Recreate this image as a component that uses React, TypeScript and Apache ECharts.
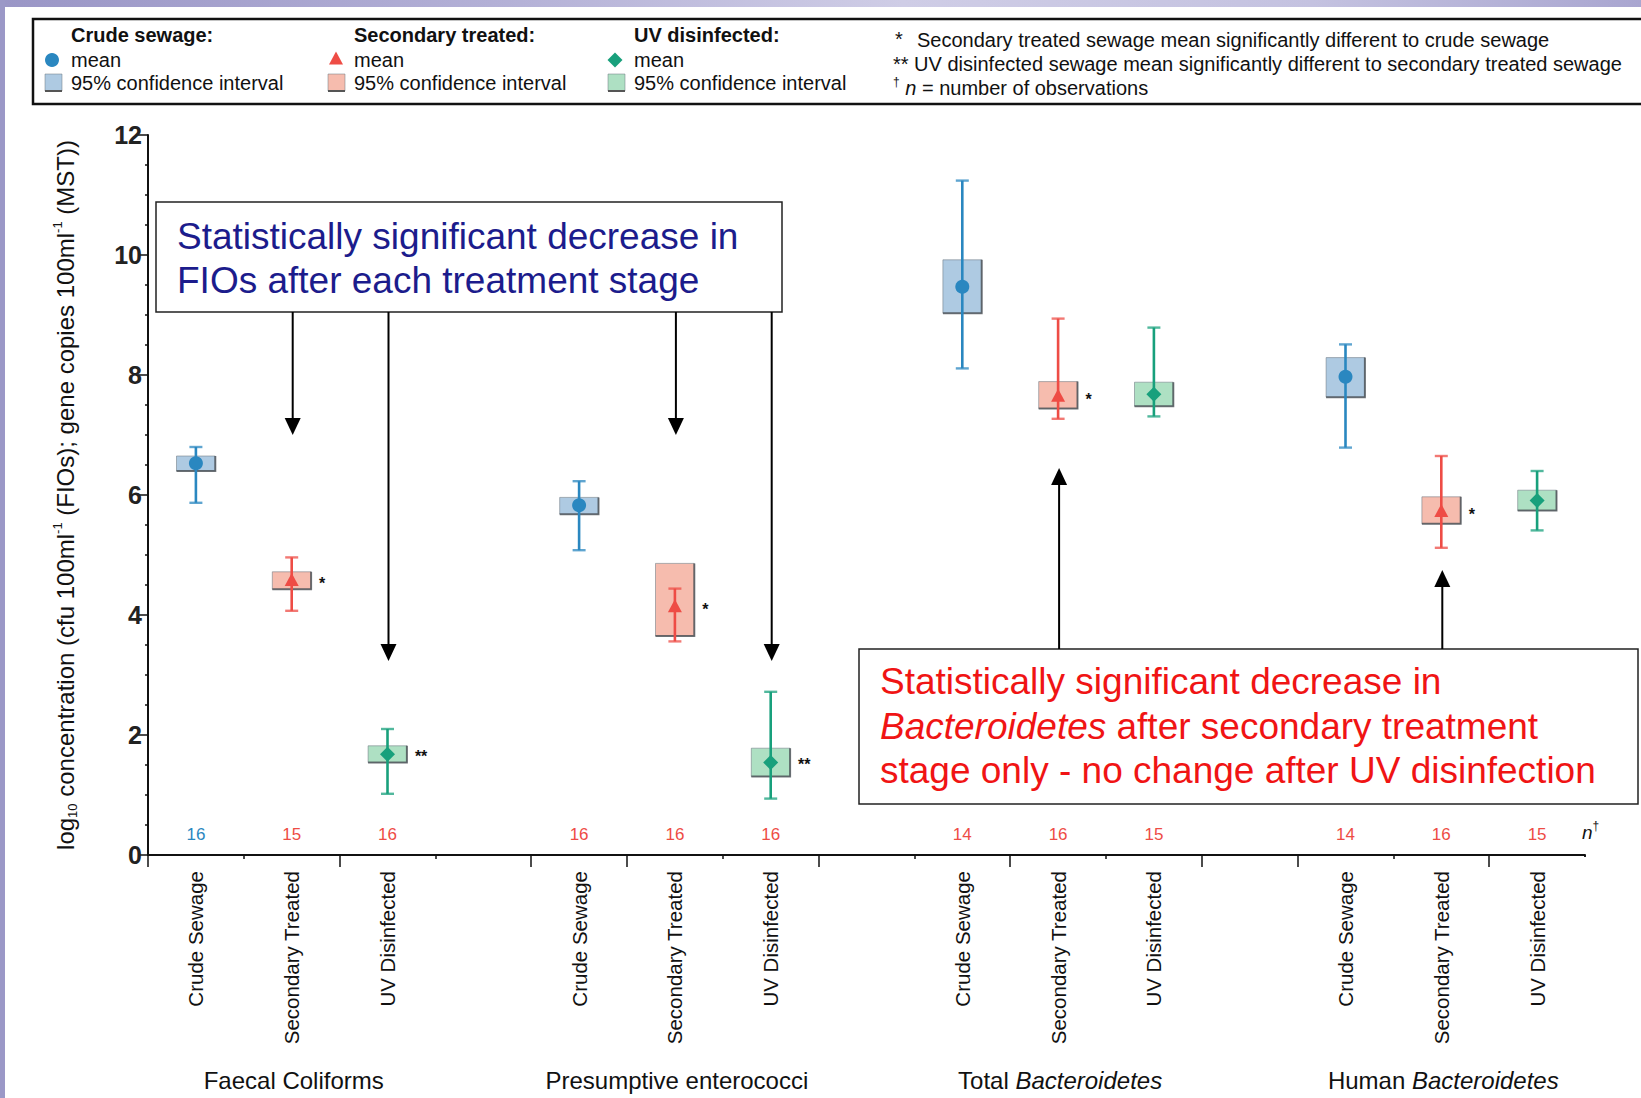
import React, { useEffect, useRef } from "react";
import * as echarts from "echarts";

const FONT = "'Liberation Sans', Arial, Helvetica, sans-serif";

// ---------- data ----------
const categories = [
  "Crude Sewage", "Secondary Treated", "UV Disinfected", "",
  "Crude Sewage", "Secondary Treated", "UV Disinfected", "",
  "Crude Sewage", "Secondary Treated", "UV Disinfected", "",
  "Crude Sewage", "Secondary Treated", "UV Disinfected",
];
const groupNames = ["Faecal Coliforms", "Presumptive enterococci", "Total {i|Bacteroidetes}", "Human {i|Bacteroidetes}"];
const groupStart = [0, 4, 8, 12];
const yTicks = [0, 2, 4, 6, 8, 10, 12];

// Crude sewage
const crudeMean = [6.53, 5.83, 9.47, 7.97];
const crudeBoxLow = [6.4, 5.68, 9.03, 7.63];
const crudeBoxHigh = [6.65, 5.96, 9.92, 8.29];
const crudeBarLow = [5.87, 5.08, 8.11, 6.79];
const crudeBarHigh = [6.8, 6.23, 11.24, 8.51];
const crudeN = [16, 16, 14, 14];
const crudeSig = ["", "", "", ""];

// Secondary treated
const secMean = [4.56, 4.12, 7.63, 5.71];
const secBoxLow = [4.43, 3.65, 7.44, 5.52];
const secBoxHigh = [4.72, 4.86, 7.89, 5.97];
const secBarLow = [4.07, 3.56, 7.27, 5.12];
const secBarHigh = [4.96, 4.44, 8.94, 6.65];
const secN = [15, 16, 16, 16];
const secSig = ["*", "*", "*", "*"];

// UV disinfected
const uvMean = [1.68, 1.54, 7.68, 5.91];
const uvBoxLow = [1.54, 1.31, 7.48, 5.74];
const uvBoxHigh = [1.82, 1.78, 7.88, 6.08];
const uvBarLow = [1.02, 0.94, 7.31, 5.41];
const uvBarHigh = [2.1, 2.72, 8.79, 6.4];
const uvN = [16, 16, 15, 15];
const uvSig = ["**", "**", "", ""];

const longTicks = [0, 2, 4, 5, 7, 9, 11, 12, 14];

// ---------- styles ----------
const BLUE = "#2a87c0";
const BLUE_FILL = "#aecae2";
const RED = "#ee4c45";
const RED_FILL = "#f6bcae";
const GREEN = "#18a07c";
const GREEN_FILL = "#aee0c3";
const N_RED = "#ee4c45";

type Treat = {
  name: string;
  offset: number;
  mean: number[];
  boxLow: number[];
  boxHigh: number[];
  barLow: number[];
  barHigh: number[];
  n: number[];
  sig: string[];
  color: string;
  fill: string;
  marker: "circle" | "triangle" | "diamond";
};

const treatments: Treat[] = [
  { name: "Crude sewage", offset: 0, mean: crudeMean, boxLow: crudeBoxLow, boxHigh: crudeBoxHigh, barLow: crudeBarLow, barHigh: crudeBarHigh, n: crudeN, sig: crudeSig, color: BLUE, fill: BLUE_FILL, marker: "circle" },
  { name: "Secondary treated", offset: 1, mean: secMean, boxLow: secBoxLow, boxHigh: secBoxHigh, barLow: secBarLow, barHigh: secBarHigh, n: secN, sig: secSig, color: RED, fill: RED_FILL, marker: "triangle" },
  { name: "UV disinfected", offset: 2, mean: uvMean, boxLow: uvBoxLow, boxHigh: uvBoxHigh, barLow: uvBarLow, barHigh: uvBarHigh, n: uvN, sig: uvSig, color: GREEN, fill: GREEN_FILL, marker: "diamond" },
];

function markerShape(kind: string, cx: number, cy: number, color: string): any {
  if (kind === "circle") {
    return { type: "circle", shape: { cx, cy, r: 7 }, style: { fill: color } };
  }
  if (kind === "triangle") {
    return {
      type: "polygon",
      shape: { points: [[cx, cy - 8.5], [cx - 7, cy + 4.5], [cx + 7, cy + 4.5]] },
      style: { fill: color },
    };
  }
  return {
    type: "polygon",
    shape: { points: [[cx, cy - 7.5], [cx + 7.5, cy], [cx, cy + 7.5], [cx - 7.5, cy]] },
    style: { fill: color },
  };
}

function txt(text: string, x: number, y: number, opts: any = {}): any {
  const align = opts.align || "left";
  const va = opts.va || "middle";
  return {
    type: "text",
    z: 20,
    style: {
      text,
      x,
      y,
      fill: opts.fill || "#111",
      fontSize: opts.fontSize || 20,
      fontFamily: FONT,
      fontWeight: opts.fontWeight || "normal",
      fontStyle: opts.fontStyle || "normal",
      lineHeight: opts.lineHeight,
      align,
      textAlign: align,
      verticalAlign: va,
      textVerticalAlign: va,
      rich: opts.rich,
    },
  };
}

function buildSeries(): any[] {
  return treatments.map((t, ti) => {
    const data = t.mean.map((m, g) => [groupStart[g] + t.offset, m, t.boxLow[g], t.boxHigh[g], t.barLow[g], t.barHigh[g]]);
    return {
      type: "custom",
      name: t.name,
      xAxisIndex: 0,
      yAxisIndex: 0,
      clip: false,
      z: 5,
      data,
      renderItem: (params: any, api: any) => {
        const g = params.dataIndex;
        const x = api.value(0);
        const [cx, cy] = api.coord([x, api.value(1)]);
        const yBL = api.coord([x, api.value(2)])[1];
        const yBH = api.coord([x, api.value(3)])[1];
        const yWL = api.coord([x, api.value(4)])[1];
        const yWH = api.coord([x, api.value(5)])[1];
        const y0 = api.coord([x, 0])[1];
        const slot = api.size([1, 0])[0];
        const bw = slot * 0.405;
        const cap = 6.5;
        const children: any[] = [
          {
            type: "rect",
            shape: { x: cx - bw / 2, y: yBH, width: bw, height: yBL - yBH },
            style: { fill: t.fill, stroke: "rgba(110,120,130,0.55)", lineWidth: 1 },
          },
          {
            type: "polyline",
            shape: { points: [[cx - bw / 2, yBL], [cx + bw / 2, yBL], [cx + bw / 2, yBH]] },
            style: { stroke: "rgba(70,75,80,0.75)", lineWidth: 2, fill: null },
          },
          {
            type: "line",
            shape: { x1: cx, y1: yWH, x2: cx, y2: yWL },
            style: { stroke: t.color, lineWidth: 2.6 },
          },
          {
            type: "line",
            shape: { x1: cx - cap, y1: yWH, x2: cx + cap, y2: yWH },
            style: { stroke: t.color, lineWidth: 2.4, opacity: 0.75 },
          },
          {
            type: "line",
            shape: { x1: cx - cap, y1: yWL, x2: cx + cap, y2: yWL },
            style: { stroke: t.color, lineWidth: 2.4, opacity: 0.75 },
          },
          markerShape(t.marker, cx, cy, t.color),
          {
            type: "text",
            style: {
              text: String(t.n[g]),
              x: cx,
              y: y0 - 21,
              fill: ti === 0 && g === 0 ? BLUE : N_RED,
              fontSize: 17,
              fontFamily: FONT,
              align: "center",
              verticalAlign: "middle",
            },
          },
        ];
        if (t.sig[g]) {
          children.push({
            type: "text",
            style: {
              text: t.sig[g],
              x: cx + bw / 2 + 8,
              y: cy + 2,
              fill: "#111",
              fontSize: 16,
              fontWeight: "bold",
              fontFamily: FONT,
              align: "left",
              verticalAlign: "middle",
            },
          });
        }
        return { type: "group", children };
      },
    };
  });
}

function buildGraphics(chart: any): any[] {
  const els: any[] = [];
  const catX = (i: number) => chart.convertToPixel({ xAxisIndex: 0 }, i) as number;

  // background bands
  els.push({
    type: "rect",
    z: 1,
    shape: { x: 0, y: 0, width: 1641, height: 7 },
    style: {
      fill: new echarts.graphic.LinearGradient(0, 0, 1, 0, [
        { offset: 0, color: "#9a96c6" },
        { offset: 0.3, color: "#b3b0d6" },
        { offset: 0.55, color: "#cfcde6" },
        { offset: 0.8, color: "#c4c2e0" },
        { offset: 1, color: "#a9a6d0" },
      ]),
    },
  });
  els.push({ type: "rect", z: 1, shape: { x: 0, y: 0, width: 5, height: 1098 }, style: { fill: "#9b98c7" } });

  // hide the automatic end tick of the category axis
  els.push({ type: "rect", z: 30, shape: { x: 1580, y: 857, width: 10, height: 14 }, style: { fill: "#fff" } });

  // legend box
  els.push({ type: "rect", z: 2, shape: { x: 33, y: 19, width: 1640, height: 85 }, style: { fill: "#fff", stroke: "#111", lineWidth: 2.5 } });
  const legendCols = [
    { title: "Crude sewage:", tx: 71, mx: 52, sx: 45, t: treatments[0] },
    { title: "Secondary treated:", tx: 354, mx: 336, sx: 328, t: treatments[1] },
    { title: "UV disinfected:", tx: 634, mx: 615, sx: 608, t: treatments[2] },
  ];
  legendCols.forEach((c) => {
    els.push(txt(c.title, c.tx, 35, { fontWeight: "bold", fontSize: 20 }));
    els.push({ ...markerShape(c.t.marker, c.mx, 60, c.t.color), z: 20 });
    els.push(txt("mean", c.tx, 60, { fontSize: 20 }));
    els.push({ type: "rect", z: 20, shape: { x: c.sx, y: 74, width: 17, height: 17 }, style: { fill: c.t.fill, stroke: "rgba(110,120,130,0.5)", lineWidth: 1 } });
    els.push({ type: "line", z: 21, shape: { x1: c.sx, y1: 91, x2: c.sx + 17, y2: 91 }, style: { stroke: "#555", lineWidth: 2 } });
    els.push(txt("95% confidence interval", c.tx, 83, { fontSize: 20 }));
  });
  els.push(txt("*", 895, 39, { fontSize: 20 }));
  els.push(txt("Secondary treated sewage mean significantly different to crude sewage", 917, 40, { fontSize: 20 }));
  els.push(txt("** UV disinfected sewage mean significantly different to secondary treated sewage", 893, 64, { fontSize: 20 }));
  els.push(
    txt("{s|†}{i| n}{r| = number of observations}", 893, 88, {
      fontSize: 20,
      rich: {
        s: { fontSize: 12, fontFamily: FONT, fill: "#111", verticalAlign: "top", lineHeight: 24 },
        i: { fontSize: 20, fontStyle: "italic", fontFamily: FONT, fill: "#111", lineHeight: 24 },
        r: { fontSize: 20, fontFamily: FONT, fill: "#111", lineHeight: 24 },
      },
    })
  );

  // n† marker
  els.push(
    txt("{i|n}{s|†}", 1582, 832, {
      rich: {
        i: { fontSize: 19, fontStyle: "italic", fontFamily: FONT, fill: "#111", lineHeight: 24 },
        s: { fontSize: 12, fontFamily: FONT, fill: "#111", verticalAlign: "top", lineHeight: 24 },
      },
    })
  );

  // group labels
  groupNames.forEach((name, g) => {
    const x = catX(groupStart[g] + 1) + 2;
    els.push(
      txt(name, x, 1080, {
        align: "center",
        fontSize: 24,
        rich: {
          i: { fontSize: 24, fontStyle: "italic", fontFamily: FONT, fill: "#111" },
        },
      })
    );
  });

  // annotation: blue
  els.push({ type: "rect", z: 10, shape: { x: 156, y: 202, width: 626, height: 110 }, style: { fill: "#fff", stroke: "#222", lineWidth: 1.5 } });
  els.push(
    txt("Statistically significant decrease in\nFIOs after each treatment stage", 177, 258, {
      fill: "#1c1c8c",
      fontSize: 37,
      lineHeight: 44,
    })
  );
  // annotation: red
  els.push({ type: "rect", z: 10, shape: { x: 859, y: 649, width: 779, height: 155 }, style: { fill: "#fff", stroke: "#222", lineWidth: 1.5 } });
  els.push(
    txt("{a|Statistically significant decrease in}\n{i|Bacteroidetes}{a| after secondary treatment}\n{a|stage only - no change after UV disinfection}", 880, 726, {
      fill: "#f01414",
      fontSize: 37,
      lineHeight: 44.5,
      rich: {
        a: { fontSize: 37, fontFamily: FONT, fill: "#f01414", lineHeight: 44.5 },
        i: { fontSize: 37, fontFamily: FONT, fontStyle: "italic", fill: "#f01414", lineHeight: 44.5 },
      },
    })
  );

  // arrows
  const downArrows = [
    { cat: 1, tip: 435 },
    { cat: 2, tip: 661 },
    { cat: 5, tip: 435 },
    { cat: 6, tip: 661 },
  ];
  downArrows.forEach((a) => {
    const x = catX(a.cat) + 1;
    els.push({ type: "line", z: 11, shape: { x1: x, y1: 312, x2: x, y2: a.tip - 12 }, style: { stroke: "#000", lineWidth: 2 } });
    els.push({ type: "polygon", z: 11, shape: { points: [[x - 8, a.tip - 17], [x + 8, a.tip - 17], [x, a.tip]] }, style: { fill: "#000" } });
  });
  const upArrows = [
    { cat: 9, tip: 468 },
    { cat: 13, tip: 570 },
  ];
  upArrows.forEach((a) => {
    const x = catX(a.cat) + 1;
    els.push({ type: "line", z: 11, shape: { x1: x, y1: 649, x2: x, y2: a.tip + 12 }, style: { stroke: "#000", lineWidth: 2 } });
    els.push({ type: "polygon", z: 11, shape: { points: [[x - 8, a.tip + 17], [x + 8, a.tip + 17], [x, a.tip]] }, style: { fill: "#000" } });
  });

  return els;
}

export default function App() {
  const ref = useRef<HTMLDivElement>(null);
  useEffect(() => {
    document.body.style.margin = "0";
    if (!ref.current) return;
    const chart = echarts.init(ref.current, undefined, { renderer: "svg" });
    const option: any = {
      animation: false,
      backgroundColor: "#ffffff",
      grid: { left: 148, right: 56, top: 135, bottom: 243, containLabel: false },
      xAxis: [
        {
          type: "category",
          data: categories,
          position: "bottom",
          boundaryGap: true,
          axisLine: { show: true, onZero: false, lineStyle: { color: "#111", width: 2 } },
          axisTick: { show: true, length: 12, interval: (i: number) => longTicks.includes(i), lineStyle: { color: "#111", width: 1.5 } },
          axisLabel: { interval: 0, rotate: 90, margin: 16, fontSize: 20.5, color: "#111", fontFamily: FONT, padding: [9, 0, 0, 0] },
          splitLine: { show: false },
        },
        {
          type: "category",
          data: categories,
          position: "bottom",
          boundaryGap: true,
          axisLine: { show: false, onZero: false },
          axisTick: { show: true, length: 4, interval: (i: number) => !longTicks.includes(i), lineStyle: { color: "#111", width: 1.5 } },
          axisLabel: { show: false },
          splitLine: { show: false },
        },
      ],
      yAxis: {
        type: "value",
        min: yTicks[0],
        max: yTicks[yTicks.length - 1],
        interval: 2,
        axisLine: { show: true, lineStyle: { color: "#111", width: 2 } },
        axisTick: { show: true, length: 10, lineStyle: { color: "#111", width: 1.5 } },
        minorTick: { show: true, splitNumber: 4, length: 3, lineStyle: { color: "#111", width: 1.5 } },
        splitLine: { show: false },
        minorSplitLine: { show: false },
        axisLabel: { fontSize: 25, fontWeight: "bold", color: "#222", margin: 6, fontFamily: FONT },
        name: "{n|log}{sub|10}{n| concentration (cfu 100ml}{sup|-1}{n| (FIOs); gene copies 100ml}{sup|-1}{n| (MST))}",
        nameLocation: "middle",
        nameRotate: 90,
        nameGap: 69,
        nameTextStyle: {
          rich: {
            n: { fontSize: 24, fontFamily: FONT, color: "#111", lineHeight: 28 },
            sub: { fontSize: 13, fontFamily: FONT, color: "#111", verticalAlign: "bottom", lineHeight: 28 },
            sup: { fontSize: 13, fontFamily: FONT, color: "#111", verticalAlign: "top", lineHeight: 28 },
          },
        },
      },
      series: buildSeries(),
    };
    chart.setOption(option);
    chart.setOption({ graphic: { elements: buildGraphics(chart) } });
    return () => chart.dispose();
  }, []);
  return <div ref={ref} style={{ width: 1641, height: 1098 }} />;
}
